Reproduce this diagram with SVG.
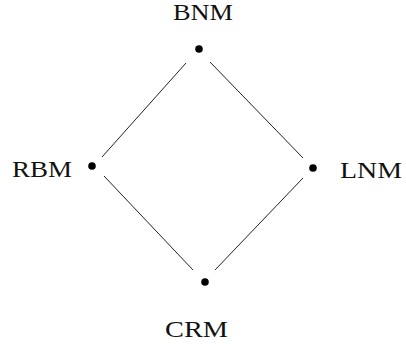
<svg xmlns="http://www.w3.org/2000/svg" width="406" height="345" viewBox="0 0 406 345">
<style>
text{font-family:"Liberation Serif","Times New Roman",serif;font-size:24px;fill:#111}
.d{fill:#000}
line{stroke:#222;stroke-width:1}
</style>
<rect width="406" height="345" fill="#fff"/>
<g id="connectors">
<line x1="186" y1="63" x2="102" y2="157"/>
<line x1="210" y1="62" x2="303" y2="158"/>
<line x1="104" y1="176" x2="193" y2="270"/>
<line x1="303" y1="178" x2="215" y2="270"/>
</g>
<g id="BNM"><circle class="d" cx="199" cy="49" r="3.8"/><text x="173" y="20" textLength="60" lengthAdjust="spacingAndGlyphs">BNM</text></g>
<g id="RBM"><circle class="d" cx="92" cy="166" r="3.8"/><text x="12" y="177" textLength="60" lengthAdjust="spacingAndGlyphs">RBM</text></g>
<g id="LNM"><circle class="d" cx="313" cy="168" r="3.8"/><text x="340" y="178" textLength="62" lengthAdjust="spacingAndGlyphs">LNM</text></g>
<g id="CRM"><circle class="d" cx="205" cy="282" r="3.8"/><text x="165" y="337" textLength="63" lengthAdjust="spacingAndGlyphs">CRM</text></g>
</svg>
